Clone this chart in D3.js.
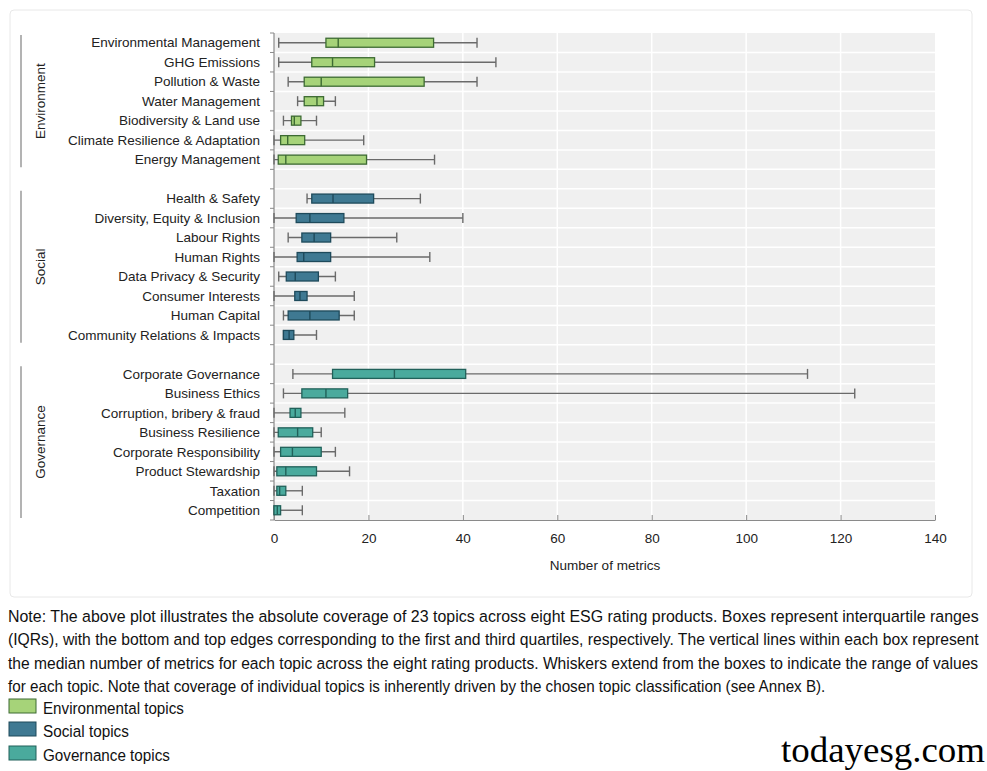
<!DOCTYPE html>
<html><head><meta charset="utf-8">
<script src="https://cdn.jsdelivr.net/npm/d3@7"></script>
<style>body{margin:0;background:#fff}svg{display:block}</style>
</head><body>
<script>
const categories = ["Environmental Management","GHG Emissions","Pollution & Waste","Water Management","Biodiversity & Land use","Climate Resilience & Adaptation","Energy Management",
 "Health & Safety","Diversity, Equity & Inclusion","Labour Rights","Human Rights","Data Privacy & Security","Consumer Interests","Human Capital","Community Relations & Impacts",
 "Corporate Governance","Business Ethics","Corruption, bribery & fraud","Business Resilience","Corporate Responsibility","Product Stewardship","Taxation","Competition"];
const groups = ["Environment","Environment","Environment","Environment","Environment","Environment","Environment",
 "Social","Social","Social","Social","Social","Social","Social","Social",
 "Governance","Governance","Governance","Governance","Governance","Governance","Governance","Governance"];
const minV = [1,1,3,5,2,0,0, 7,0,3,0,1,0,2,2, 4,2,0,0,0,0,0,0];
const q1V  = [11,8,6.4,6.4,3.7,1.4,0.9, 8,4.7,5.9,4.9,2.6,4.4,3,2, 12.4,5.9,3.4,0.9,1.4,0.6,0.6,0];
const medV = [13.6,12.4,10,9.1,4.3,2.9,2.5, 12.5,7.6,8.5,6.3,4.5,5.5,7.6,3.2, 25.5,11,4.5,5,3.9,2.5,1.2,0.7];
const q3V  = [33.8,21.3,31.8,10.5,5.7,6.5,19.6, 21.1,14.8,12,12,9.4,7,13.8,4.2, 40.6,15.6,5.7,8.2,10,9,2.5,1.4];
const maxV = [43,47,43,13,9,19,34, 31,40,26,33,13,17,17,9, 113,123,15,10,13,16,6,6];
const groupNames = ["Environment","Social","Governance"];
const legendLabels = ["Environmental topics","Social topics","Governance topics"];
const xTicks = [0,20,40,60,80,100,120,140];
const noteLines = [
 "Note: The above plot illustrates the absolute coverage of 23 topics across eight ESG rating products. Boxes represent interquartile ranges",
 "(IQRs), with the bottom and top edges corresponding to the first and third quartiles, respectively. The vertical lines within each box represent",
 "the median number of metrics for each topic across the eight rating products. Whiskers extend from the boxes to indicate the range of values",
 "for each topic. Note that coverage of individual topics is inherently driven by the chosen topic classification (see Annex B)."];

const fills = {Environment:"#a6d379", Social:"#3f7992", Governance:"#4aaa9d"};
const strokes = {Environment:"#3d6b33", Social:"#1e4a5b", Governance:"#21615a"};

const W=987,H=771;
const svg=d3.select("body").append("svg").attr("width",W).attr("height",H);
svg.append("rect").attr("x",10).attr("y",10).attr("width",962).attr("height",587).attr("rx",4)
  .attr("fill","#fff").attr("stroke","#e8e8e8");

const slots=[];
categories.forEach((c,i)=>{ if(i>0 && groups[i]!==groups[i-1]) slots.push("gap"+i); slots.push(c); });
const y=d3.scaleBand().domain(slots).range([33,520]).padding(0);
const x=d3.scaleLinear().domain([0,140]).range([274,935]);
const font="Liberation Sans, Arial, sans-serif";

svg.append("rect").attr("x",x(0)).attr("y",33).attr("width",x(140)-x(0)).attr("height",487).attr("fill","#f0f0f0");
svg.selectAll(".vg").data(xTicks.slice(1,-1)).enter().append("line")
  .attr("x1",d=>x(d)).attr("x2",d=>x(d)).attr("y1",33).attr("y2",520).attr("stroke","#fff").attr("stroke-width",1.5);
svg.selectAll(".hg").data(slots.slice(1)).enter().append("line")
  .attr("x1",x(0)).attr("x2",x(140)).attr("y1",d=>y(d)).attr("y2",d=>y(d)).attr("stroke","#fff").attr("stroke-width",1.5);

svg.append("line").attr("x1",x(0)).attr("x2",x(0)).attr("y1",33).attr("y2",520).attr("stroke","#8a8a8a").attr("stroke-width",1.2);
svg.selectAll(".yt").data(slots.concat(["end"])).enter().append("line")
  .attr("x1",x(0)-4).attr("x2",x(0))
  .attr("y1",d=>d==="end"?520:y(d)).attr("y2",d=>d==="end"?520:y(d))
  .attr("stroke","#8a8a8a").attr("stroke-width",1);

const xa=svg.append("g").attr("transform","translate(0,520)")
  .call(d3.axisBottom(x).tickValues(xTicks).tickSize(-5).tickPadding(13).tickSizeOuter(0));
xa.select(".domain").attr("stroke","#8a8a8a").attr("stroke-width",1.2);
xa.selectAll(".tick line").attr("stroke","#8a8a8a");
xa.selectAll("text").attr("font-family",font).attr("font-size",13.5).attr("fill","#222");
svg.append("text").attr("x",605).attr("y",570).attr("text-anchor","middle")
  .attr("font-family",font).attr("font-size",13.5).attr("fill","#222").text("Number of metrics");

svg.selectAll(".cl").data(categories).enter().append("text")
  .attr("x",260).attr("y",d=>y(d)+y.bandwidth()/2).attr("dy","0.35em").attr("text-anchor","end")
  .attr("font-family",font).attr("font-size",13.5).attr("fill","#222").text(d=>d);

groupNames.forEach(g=>{
  const cats=categories.filter((c,i)=>groups[i]===g);
  const y0=y(cats[0])+2, y1=y(cats[cats.length-1])+y.bandwidth()-2;
  svg.append("line").attr("x1",21).attr("x2",21).attr("y1",y0).attr("y2",y1).attr("stroke","#9a9a9a").attr("stroke-width",1.5);
  svg.append("text").attr("transform",`translate(40,${(y0+y1)/2}) rotate(-90)`).attr("dy","0.35em")
    .attr("text-anchor","middle").attr("font-family",font).attr("font-size",13.5).attr("fill","#222").text(g);
});

const bh=9, ch=10;
categories.forEach((c,i)=>{
  const cy=y(c)+y.bandwidth()/2, g=groups[i];
  const gEl=svg.append("g");
  gEl.append("line").attr("x1",x(minV[i])).attr("x2",x(maxV[i])).attr("y1",cy).attr("y2",cy).attr("stroke","#6a6a6a").attr("stroke-width",1.4);
  [minV[i],maxV[i]].forEach(v=>gEl.append("line").attr("x1",x(v)).attr("x2",x(v)).attr("y1",cy-ch/2).attr("y2",cy+ch/2).attr("stroke","#6a6a6a").attr("stroke-width",1.4));
  gEl.append("rect").attr("x",x(q1V[i])).attr("y",cy-bh/2).attr("width",x(q3V[i])-x(q1V[i])).attr("height",bh)
    .attr("fill",fills[g]).attr("stroke",strokes[g]).attr("stroke-width",1.3);
  gEl.append("line").attr("x1",x(medV[i])).attr("x2",x(medV[i])).attr("y1",cy-bh/2).attr("y2",cy+bh/2).attr("stroke",strokes[g]).attr("stroke-width",1.4);
});

function narrowText(t, x0, y0, size, target){
  const el=svg.append("text").attr("x",0).attr("y",0).attr("font-family",font).attr("font-size",size).attr("fill","#111").text(t);
  const w=el.node().getComputedTextLength();
  el.attr("transform",`translate(${x0},${y0}) scale(${target/w},1)`);
  return el;
}
const noteY=[622,645,669,692];
noteLines.forEach((t,i)=>narrowText(t,8,noteY[i],16.5,i<3?971:818));

const legY=[699,722,746];
const legW=[141,86,127];
legendLabels.forEach((t,i)=>{
  const g=groupNames[i];
  svg.append("rect").attr("x",9).attr("y",legY[i]).attr("width",27).attr("height",14).attr("fill",fills[g]).attr("stroke",strokes[g]).attr("stroke-width",1);
  narrowText(t,43,legY[i]+15,16.5,legW[i]);
});
svg.append("text").attr("x",781).attr("y",762).attr("font-family","Liberation Serif, DejaVu Serif, serif").attr("font-size",35)
  .attr("fill","#000").attr("textLength",204).attr("lengthAdjust","spacingAndGlyphs").text("todayesg.com");
</script>
</body></html>
